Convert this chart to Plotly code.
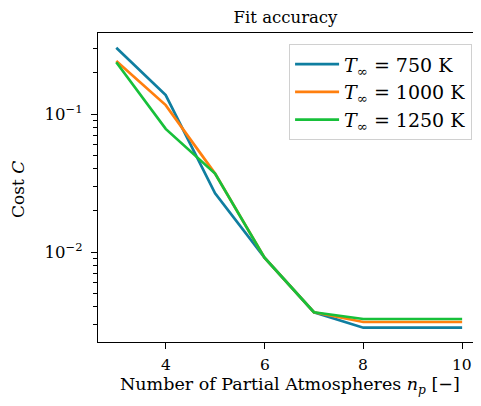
import plotly.graph_objects as go

n_p = [3, 4, 5, 6, 7, 8, 9, 10]
cost_750 = [0.302, 0.137, 0.0266, 0.0091, 0.00366, 0.00283, 0.00283, 0.00283]
cost_1000 = [0.242, 0.116, 0.0370, 0.0091, 0.00366, 0.00311, 0.00311, 0.00311]
cost_1250 = [0.237, 0.078, 0.0370, 0.0091, 0.00366, 0.00327, 0.00327, 0.00327]
labels = ["<i>T</i><sub>∞</sub> = 750 K", "<i>T</i><sub>∞</sub> = 1000 K", "<i>T</i><sub>∞</sub> = 1250 K"]
colors = ["#0f7ea0", "#ff7f0e", "#17c03a"]
x_ticks = [4, 6, 8, 10]
x_ticktext = ["4", "6", "8", "10"]
y_ticks = [0.01, 0.1]
y_ticktext = ["10<sup>−2</sup>", "10<sup>−1</sup>"]
y_minor = [0.003, 0.004, 0.005, 0.006, 0.007, 0.008, 0.009,
           0.02, 0.03, 0.04, 0.05, 0.06, 0.07, 0.08, 0.09, 0.2, 0.3]
x_title = "Number of Partial Atmospheres <i>n<sub>p</sub></i> [−]"
y_title = "Cost <i>C</i>"

font = "DejaVu Serif"
fig = go.Figure()
for ys, lab, c in zip([cost_750, cost_1000, cost_1250], labels, colors):
    fig.add_trace(go.Scatter(x=n_p, y=ys, mode="lines", name=lab,
                             line=dict(color=c, width=2.7)))

annotations = [
    dict(text=t, x=v, xref="x", yref="paper", y=0, yshift=-23, borderpad=0,
         xanchor="center", yanchor="middle", showarrow=False, font=dict(size=15.5))
    for v, t in zip(x_ticks, x_ticktext)
]
annotations += [
    dict(text=x_title, xref="paper", yref="paper", x=0.512, y=0, yshift=-56, borderpad=0,
         xanchor="center", yanchor="bottom", showarrow=False, font=dict(size=17.5)),
    dict(text=y_title, xref="paper", yref="paper", x=0, y=0.492, xshift=-80, borderpad=0,
         xanchor="center", yanchor="middle", textangle=-90, showarrow=False,
         font=dict(size=17)),
]

fig.update_layout(
    width=465, height=390,
    margin=dict(l=90, r=0, t=25, b=56, autoexpand=False),
    paper_bgcolor="white", plot_bgcolor="white",
    font=dict(family=font, size=15, color="black"),
    title=dict(text="Fit accuracy", x=0.5, xref="paper", xanchor="center",
               y=0.976, yref="container", yanchor="middle",
               font=dict(size=16.5)),
    showlegend=True,
    legend=dict(x=0.997, y=0.964, xanchor="right", yanchor="top",
                bordercolor="#d0d0d0", borderwidth=1.2, bgcolor="rgba(255,255,255,0.8)",
                font=dict(size=19), itemwidth=44, tracegroupgap=0),
    annotations=annotations,
)
fig.update_xaxes(range=[2.63, 10.22], tickvals=x_ticks, ticktext=[""] * len(x_ticks),
                 ticks="outside", ticklen=6,
                 tickwidth=1.2, tickcolor="black", showline=True, linecolor="black",
                 linewidth=1.3, mirror=True, showgrid=False, zeroline=False,
                 automargin=False)
fig.update_yaxes(type="log", range=[-2.652, -0.413], tickvals=y_ticks, ticktext=y_ticktext,
                 ticks="outside", ticklen=6, tickwidth=1.2, tickcolor="black",
                 minor=dict(tickvals=y_minor, ticks="outside", ticklen=3.5,
                            tickwidth=1, tickcolor="black", showgrid=False),
                 showline=True, linecolor="black", linewidth=1.3, mirror=False,
                 showgrid=False, zeroline=False, automargin=False,
                 tickfont=dict(size=16.5), ticklabelstandoff=5)

fig.write_html("out.html")
